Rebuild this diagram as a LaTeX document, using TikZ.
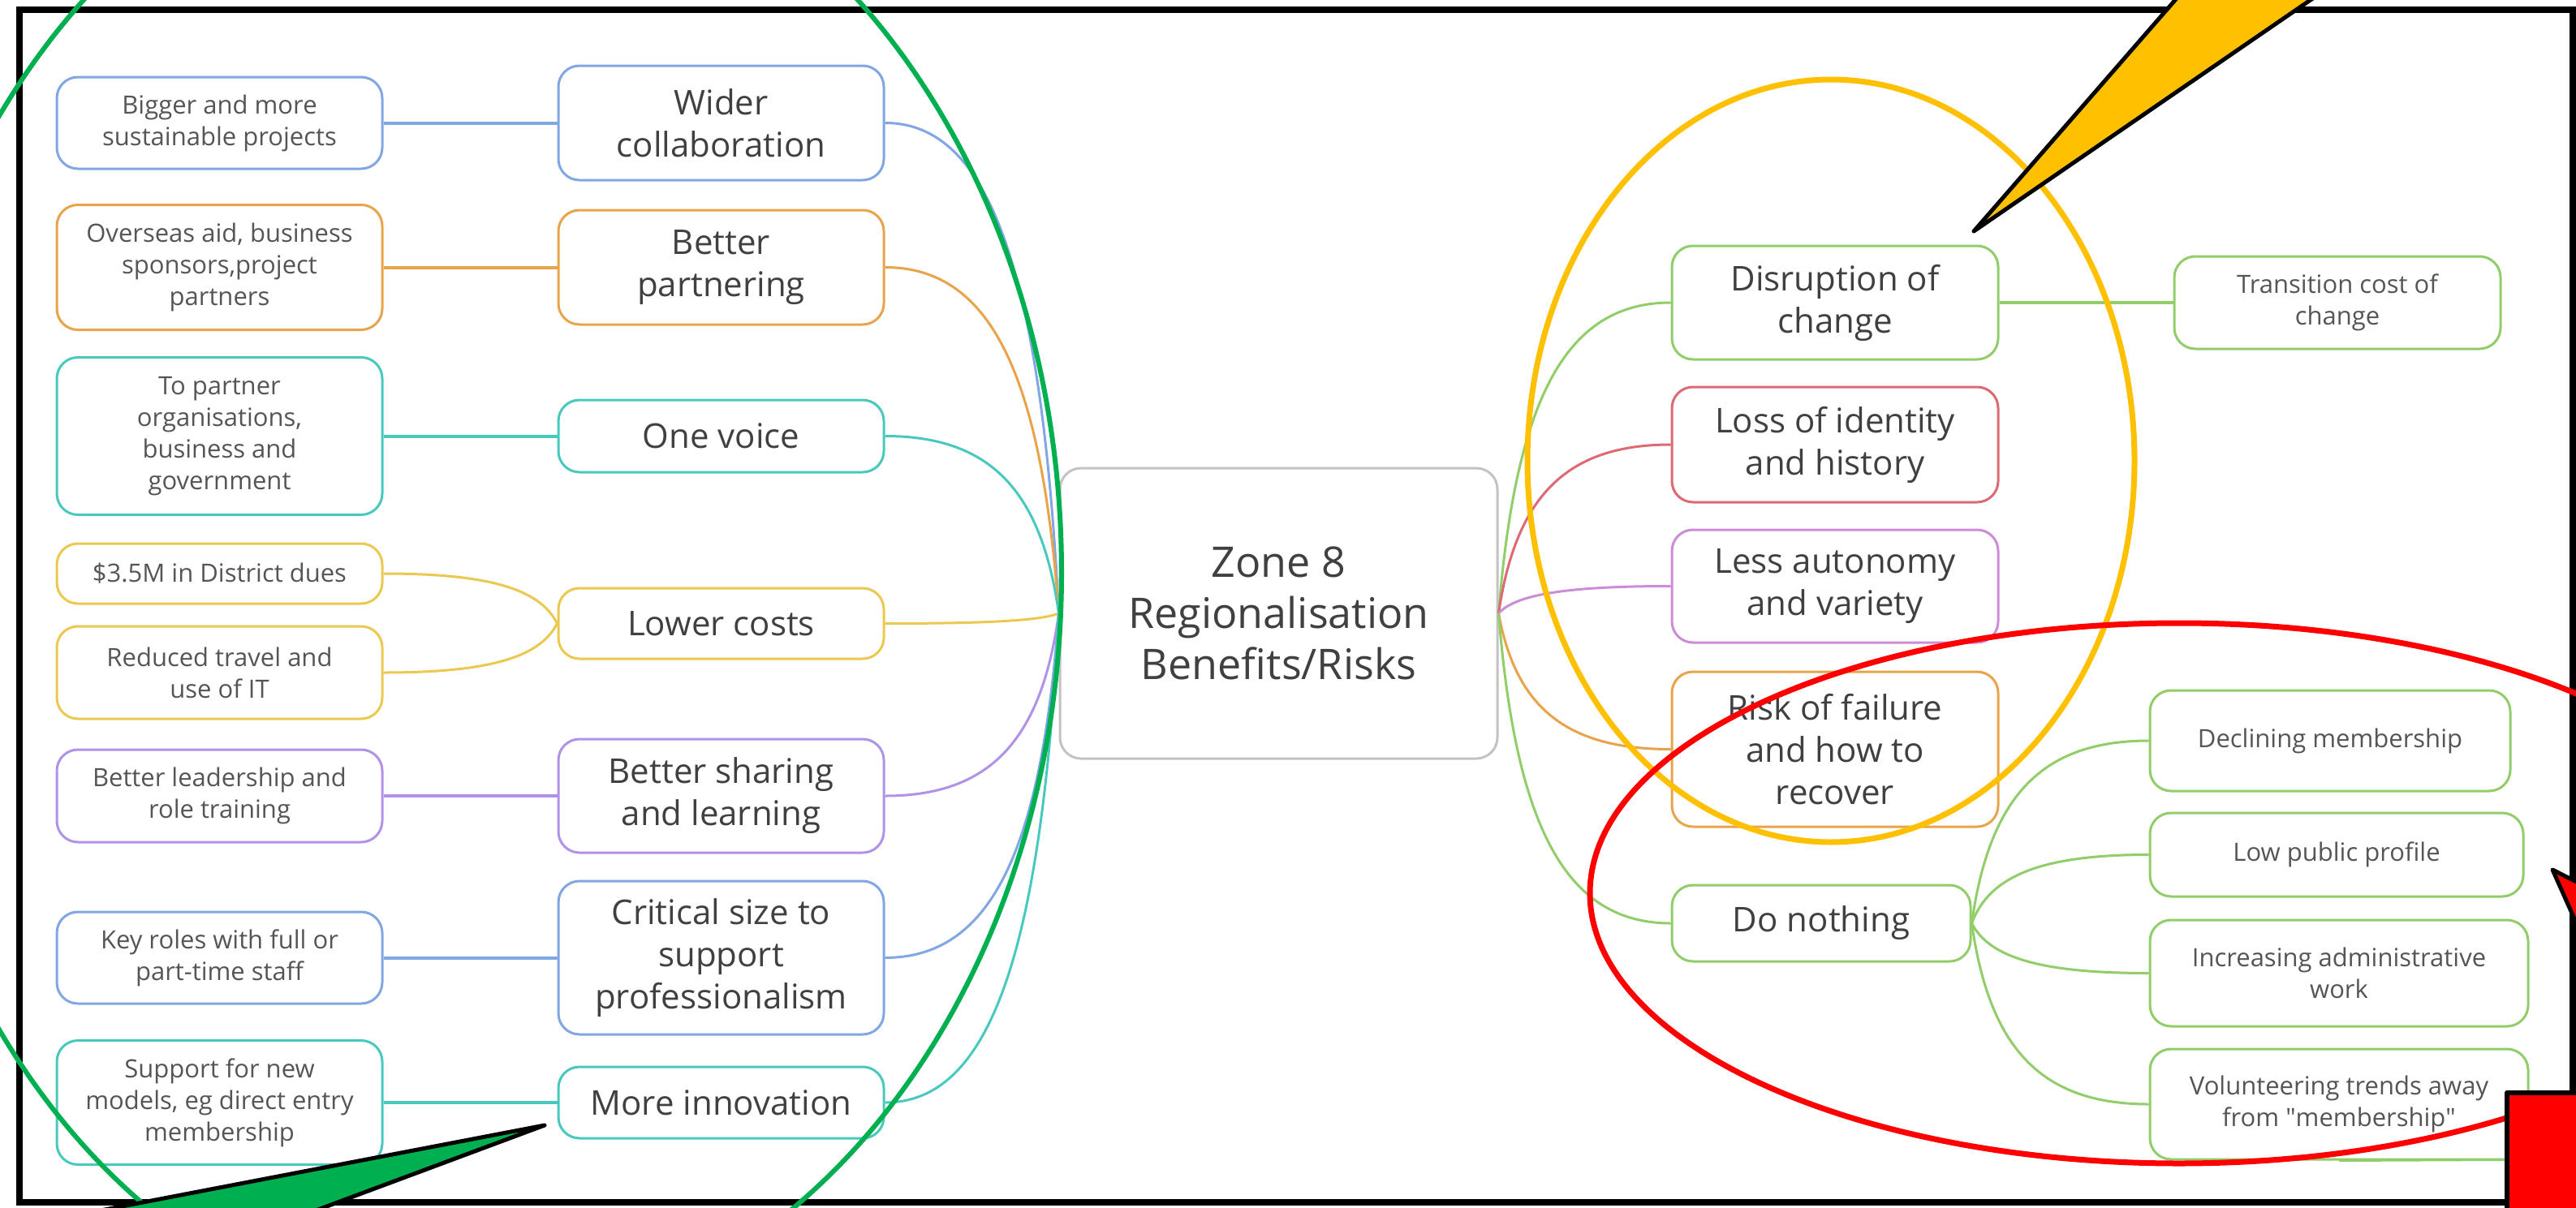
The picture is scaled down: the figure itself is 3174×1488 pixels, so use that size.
\documentclass[tikz,border=0pt]{standalone}
\usepackage{fontspec}
\setmainfont{Open Sans}
\newfontfamily\osraw{Open Sans}
\usetikzlibrary{calc}
\definecolor{cBlue}{RGB}{128,166,228}
\definecolor{cOrange}{RGB}{232,163,75}
\definecolor{cTeal}{RGB}{72,201,190}
\definecolor{cYellow}{RGB}{236,200,80}
\definecolor{cPurple}{RGB}{176,146,232}
\definecolor{cPink}{RGB}{205,140,215}
\definecolor{cRed}{RGB}{222,105,115}
\definecolor{cGreen}{RGB}{145,205,105}
\definecolor{cGrey}{RGB}{195,195,195}
\definecolor{txt}{RGB}{64,64,64}
\definecolor{txtS}{RGB}{85,85,85}
\definecolor{annGreen}{RGB}{0,176,80}
\definecolor{annYellow}{RGB}{255,192,0}
\definecolor{annRed}{RGB}{255,0,0}
\newcommand\fsub{\fontsize{31}{39}\selectfont}
\newcommand\fmain{\fontsize{42}{52}\selectfont}
\newcommand\fcen{\fontsize{52}{63}\selectfont}
\tikzset{
  box/.style={draw=#1, line width=3pt, rounded corners=26pt, fill=white, inner sep=0pt, align=center},
  subbox/.style={box=#1, font=\fsub, text=txtS, minimum width=401pt},
  mainbox/.style={box=#1, font=\fmain, text=txt, minimum width=401pt},
  rsub/.style={box=#1, font=\fsub, text=txtS},
  lnk/.style={draw=#1, line width=3pt},
  slnk/.style={draw=#1, line width=4pt},
  ann/.style={draw=#1, line width=7pt},
  wedge/.style={fill=#1, draw=black, line width=5pt, line join=round}
}
\newcommand\mmlink[3]{\draw[lnk=#1] let \p1=(#2), \p2=(#3) in (\p1) .. controls (0.4*\x1+0.6*\x2, \y1) and (0.1*\x1+0.9*\x2, 0.7*\y1+0.3*\y2) .. (\p2);}
\begin{document}
\begin{tikzpicture}[x=1pt,y=-1pt]
\useasboundingbox (0,0) rectangle (3174,1488);
\fill[white] (0,0) rectangle (3174,1488);
\begin{scope}
\clip (0,0) rectangle (3174,1488);
% central
\node[box=cGrey, font=\fcen, text=txt, minimum width=539pt, minimum height=358pt] (c) at (1575.5,756) {Zone 8\\Regionalisation\\Benefits/Risks};
% left main
\node[mainbox=cBlue, minimum height=141pt] (m1) at (888.5,151.5) {Wider\\collaboration};
\node[mainbox=cOrange, minimum height=141pt] (m2) at (888.5,329.5) {Better\\partnering};
\node[mainbox=cTeal, minimum height=89pt] (m3) at (888.5,537.5) {One voice};
\node[mainbox=cYellow, minimum height=87pt] (m4) at (888.5,768.5) {Lower costs};
\node[mainbox=cPurple, minimum height=140pt] (m5) at (888.5,981) {Better sharing\\and learning};
\node[mainbox=cBlue, minimum height=189pt] (m6) at (888.5,1180.5) {Critical size to\\support\\professionalism};
\node[mainbox=cTeal, minimum height=88pt] (m7) at (888.5,1359) {More innovation};
% left sub
\node[subbox=cBlue, minimum height=113pt] (b1) at (270.5,151.5) {Bigger and more\\sustainable projects};
\node[subbox=cOrange, minimum height=154pt] (b2) at (270.5,329.5) {Overseas aid, business\\sponsors,project\\partners};
\node[subbox=cTeal, minimum height=194pt] (b3) at (270.5,537.5) {To partner\\organisations,\\business and\\government};
\node[subbox=cYellow, minimum height=74pt] (b4a) at (270.5,707) {\$3.5M in District dues};
\node[subbox=cYellow, minimum height=114pt] (b4b) at (270.5,829) {Reduced travel and\\use of IT};
\node[subbox=cPurple, minimum height=114pt] (b5) at (270.5,981) {Better leadership and\\role training};
\node[subbox=cBlue, minimum height=113pt] (b6) at (270.5,1180.5) {Key roles with full or\\part-time staff};
\node[subbox=cTeal, minimum height=153pt] (b7) at (270.5,1359) {Support for new\\models, eg direct entry\\membership};
% right main
\node[mainbox=cGreen, minimum width=402pt, minimum height=140pt] (r1) at (2261,373) {Disruption of\\change};
\node[mainbox=cRed, minimum width=402pt, minimum height=142pt] (r2) at (2261,548) {Loss of identity\\and history};
\node[mainbox=cPink, minimum width=402pt, minimum height=139pt] (r3) at (2261,722.5) {Less autonomy\\and variety};
\node[mainbox=cOrange, minimum width=402pt, minimum height=191pt] (r4) at (2261,923.5) {Risk of failure\\and how to\\recover};
\node[mainbox=cGreen, minimum width=368pt, minimum height=94pt] (r5) at (2244,1138) {Do nothing};
% right sub
\node[rsub=cGreen, minimum width=402pt, minimum height=114pt] (t1) at (2880,373) {Transition cost of\\change};
\node[rsub=cGreen, minimum width=444pt, minimum height=124pt] (s1) at (2871,913) {Declining membership};
\node[rsub=cGreen, minimum width=460pt, minimum height=103pt] (s2) at (2879,1053.5) {Low public profile};
\node[rsub=cGreen, minimum width=466pt, minimum height=131pt] (s3) at (2882,1199.5) {Increasing administrative\\work};
\node[rsub=cGreen, minimum width=466pt, minimum height=136pt] (s4) at (2882,1361) {Volunteering trends away\\from {\osraw"}membership{\osraw"}};
\coordinate (s4end) at (3174,1429);
\draw[lnk=cGreen] (s4.south) -- (s4end);
% straight links
\draw[slnk=cBlue] (b1.east) -- (m1.west);
\draw[slnk=cOrange] (b2.east) -- (m2.west);
\draw[slnk=cTeal] (b3.east) -- (m3.west);
\draw[slnk=cPurple] (b5.east) -- (m5.west);
\draw[slnk=cBlue] (b6.east) -- (m6.west);
\draw[slnk=cTeal] (b7.east) -- (m7.west);
\draw[slnk=cGreen] (r1.east) -- (t1.west);
% curved links
\mmlink{cYellow}{b4a.east}{m4.west}
\mmlink{cYellow}{b4b.east}{m4.west}
\mmlink{cBlue}{m1.east}{c.west}
\mmlink{cOrange}{m2.east}{c.west}
\mmlink{cTeal}{m3.east}{c.west}
\mmlink{cYellow}{m4.east}{c.west}
\mmlink{cPurple}{m5.east}{c.west}
\mmlink{cBlue}{m6.east}{c.west}
\mmlink{cTeal}{m7.east}{c.west}
\mmlink{cGreen}{r1.west}{c.east}
\mmlink{cRed}{r2.west}{c.east}
\mmlink{cPink}{r3.west}{c.east}
\mmlink{cOrange}{r4.west}{c.east}
\mmlink{cGreen}{r5.west}{c.east}
\mmlink{cGreen}{s1.west}{r5.east}
\mmlink{cGreen}{s2.west}{r5.east}
\mmlink{cGreen}{s3.west}{r5.east}
\mmlink{cGreen}{s4.west}{r5.east}
% frame
\draw[line width=8pt] (24,12) rectangle (3170,1482);
% annotation ellipses
\draw[ann=annGreen, line width=6pt] (580,706) ellipse [x radius=728, y radius=934.5];
\draw[ann=annYellow] (2256,568) ellipse [x radius=374, y radius=470];
\draw[ann=annRed] (2685,1101) ellipse [x radius=726, y radius=333];
% callouts
\coordinate (gtip) at (671,1387);
\filldraw[wedge=annGreen] (gtip) -- (-22,1520) -- (314,1520) -- cycle;
\coordinate (ytip) at (2432,285);
\filldraw[wedge=annYellow] (ytip) -- (2715,-40) -- (2905,-40) -- cycle;
\coordinate (rtip) at (3145,1072);
\filldraw[wedge=annRed] (rtip) -- (3220,1110) -- (3220,1240) -- cycle;
\filldraw[wedge=annRed, line width=6pt] (3089,1347) rectangle (3260,1560);
\end{scope}
\end{tikzpicture}
\end{document}
